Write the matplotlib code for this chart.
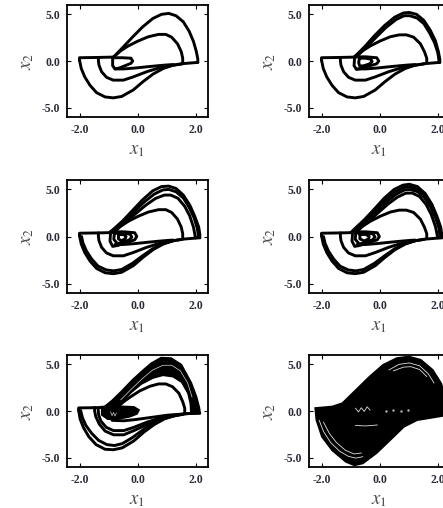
import matplotlib
matplotlib.use("Agg")
import matplotlib.pyplot as plt

plt.rcParams['mathtext.fontset'] = 'stix'

# ---------------- data ----------------
x_ticks = [-2.0, 0.0, 2.0]
y_ticks = [-5.0, 0.0, 5.0]
x_ticklabels = ["-2.0", "0.0", "2.0"]
y_ticklabels = ["-5.0", "0.0", "5.0"]
x_limits = (-2.45, 2.4)
y_limits = (-6.0, 6.0)

# shared parts of the attractor (panels 1-4)
left_drift = ([-2.02, -2.02, -1.4, -0.85], [0.05, 0.35, 0.38, 0.42])
outer_lower = ([-2.02, -1.96, -1.84, -1.66, -1.43, -1.14, -0.86, -0.57, -0.17, 0.17, 0.51, 0.86, 1.2, 1.54, 2.05],
               [0.1, -0.8, -1.7, -2.6, -3.4, -3.85, -3.95, -3.8, -3.1, -2.2, -1.4, -0.8, -0.45, -0.28, -0.15])
middle_lower = ([-1.37, -1.37, -1.35, -1.26, -1.09, -0.86, -0.51, -0.17, 0.29, 0.74, 1.2, 1.52],
                [0.38, 0.0, -0.45, -1.15, -1.75, -2.05, -2.05, -1.7, -1.15, -0.72, -0.45, -0.3])
inner_lower = ([-0.8, -0.5, -0.1, 0.3, 0.7, 1.0, 1.2],
               [-0.85, -0.85, -0.75, -0.62, -0.5, -0.42, -0.38])
inner_arch = ([-0.85, -0.6, -0.35, 0.0, 0.35, 0.7, 0.95, 1.15, 1.35, 1.48, 1.53, 1.53],
              [0.42, 1.1, 1.6, 2.15, 2.6, 2.85, 2.85, 2.55, 1.85, 1.0, 0.3, -0.2])

# panel 1
p1_arch = ([-0.85, -0.7, -0.5, -0.2, 0.15, 0.5, 0.8, 1.05, 1.3, 1.55, 1.75, 1.9, 2.0, 2.05, 2.05],
           [0.42, 0.9, 1.55, 2.55, 3.65, 4.55, 5.0, 5.1, 4.85, 4.2, 3.2, 2.1, 1.0, 0.2, -0.15])
p1_loop = ([-0.88, -0.55, -0.25, -0.19, -0.25, -0.45, -0.65, -0.8, -0.88, -0.88],
           [0.35, 0.35, 0.3, 0.0, -0.25, -0.5, -0.75, -0.85, -0.5, 0.35])

# panel 2
p2_arch_a = ([-0.9, -0.72, -0.5, -0.2, 0.15, 0.5, 0.8, 1.0, 1.25, 1.5, 1.72, 1.9, 2.0, 2.05, 2.05],
             [0.42, 0.95, 1.65, 2.7, 3.8, 4.7, 5.15, 5.2, 5.0, 4.35, 3.3, 2.15, 1.0, 0.2, -0.15])
p2_arch_b = ([-0.85, -0.66, -0.44, -0.14, 0.2, 0.55, 0.82, 1.02, 1.27, 1.5, 1.7, 1.87, 1.98, 2.03],
             [0.42, 0.95, 1.6, 2.55, 3.6, 4.45, 4.85, 4.85, 4.6, 4.0, 3.0, 1.95, 0.9, -0.15])
p2_inner_arch = ([-0.85, -0.6, -0.35, 0.0, 0.35, 0.65, 0.9, 1.15, 1.38, 1.52, 1.6, 1.6],
                 [0.42, 1.1, 1.6, 2.15, 2.6, 2.8, 2.8, 2.55, 1.85, 1.0, 0.3, -0.2])
p2_loop_a = ([-0.88, -0.5, -0.12, -0.05, -0.12, -0.4, -0.65, -0.82, -0.9, -0.88],
             [0.45, 0.45, 0.35, 0.0, -0.3, -0.55, -0.8, -0.9, -0.5, 0.45])
p2_loop_b = ([-0.72, -0.5, -0.32, -0.28, -0.36, -0.55, -0.7, -0.74, -0.72],
             [0.3, 0.3, 0.2, -0.05, -0.3, -0.5, -0.55, -0.2, 0.3])

# panel 3
p3_arch_a = ([-0.97, -0.77, -0.52, -0.2, 0.15, 0.5, 0.8, 1.05, 1.3, 1.55, 1.78, 1.95, 2.08, 2.12, 2.12],
             [0.45, 1.0, 1.7, 2.75, 3.9, 4.85, 5.3, 5.35, 5.1, 4.4, 3.3, 2.1, 1.0, 0.2, -0.15])
p3_arch_b = ([-0.92, -0.72, -0.47, -0.15, 0.2, 0.55, 0.85, 1.05, 1.3, 1.55, 1.75, 1.92, 2.03, 2.08],
             [0.45, 1.0, 1.65, 2.6, 3.65, 4.5, 4.95, 5.0, 4.75, 4.1, 3.1, 2.0, 0.9, -0.15])
p3_arch_c = ([-0.87, -0.66, -0.4, -0.08, 0.27, 0.6, 0.9, 1.12, 1.37, 1.6, 1.77, 1.9, 1.97],
             [0.45, 1.0, 1.6, 2.45, 3.35, 4.05, 4.4, 4.4, 4.05, 3.2, 2.2, 1.0, -0.15])
p3_loop_a = ([-0.95, -0.5, -0.12, -0.05, -0.12, -0.4, -0.7, -0.88, -0.97, -0.95],
             [0.5, 0.5, 0.4, 0.0, -0.35, -0.65, -0.95, -1.05, -0.5, 0.5])
p3_loop_b = ([-0.82, -0.5, -0.28, -0.22, -0.3, -0.52, -0.72, -0.84, -0.82],
             [0.35, 0.35, 0.25, -0.05, -0.35, -0.6, -0.75, -0.3, 0.35])
p3_loop_c = ([-0.68, -0.5, -0.42, -0.45, -0.58, -0.68, -0.68],
             [0.2, 0.2, 0.0, -0.25, -0.45, -0.25, 0.2])
p3_outer_lower_b = ([-1.95, -1.9, -1.78, -1.6, -1.38, -1.1, -0.84, -0.57, -0.2, 0.15, 0.5, 0.85, 1.2],
                    [0.0, -0.7, -1.55, -2.4, -3.15, -3.55, -3.65, -3.5, -2.85, -2.05, -1.3, -0.78, -0.45])

# panel 4
p4_arch_a = ([-1.0, -0.8, -0.54, -0.22, 0.13, 0.48, 0.78, 1.0, 1.28, 1.55, 1.78, 1.95, 2.08, 2.12, 2.12],
             [0.45, 1.05, 1.8, 2.85, 4.05, 5.0, 5.45, 5.55, 5.3, 4.55, 3.4, 2.15, 1.0, 0.2, -0.15])
p4_arch_b = ([-0.96, -0.76, -0.5, -0.18, 0.17, 0.52, 0.8, 1.02, 1.28, 1.53, 1.76, 1.93, 2.05, 2.1],
             [0.45, 1.02, 1.72, 2.75, 3.85, 4.75, 5.2, 5.28, 5.02, 4.3, 3.25, 2.05, 0.95, -0.15])
p4_arch_c = ([-0.91, -0.71, -0.46, -0.14, 0.21, 0.55, 0.84, 1.04, 1.29, 1.53, 1.74, 1.9, 2.02, 2.06],
             [0.45, 1.0, 1.65, 2.6, 3.65, 4.5, 4.95, 5.0, 4.75, 4.1, 3.1, 2.0, 0.9, -0.15])
p4_arch_d = ([-0.86, -0.65, -0.4, -0.08, 0.27, 0.6, 0.88, 1.1, 1.35, 1.58, 1.76, 1.9, 1.98],
             [0.45, 1.0, 1.6, 2.5, 3.45, 4.2, 4.6, 4.62, 4.25, 3.4, 2.3, 1.05, -0.15])
p4_loop_a = ([-0.95, -0.5, -0.1, -0.03, -0.1, -0.4, -0.7, -0.88, -0.97, -0.95],
             [0.5, 0.5, 0.4, 0.0, -0.35, -0.65, -0.95, -1.05, -0.5, 0.5])
p4_loop_b = ([-0.84, -0.5, -0.25, -0.18, -0.26, -0.5, -0.72, -0.86, -0.84],
             [0.38, 0.38, 0.28, -0.05, -0.35, -0.62, -0.8, -0.3, 0.38])
p4_loop_c = ([-0.7, -0.5, -0.38, -0.4, -0.55, -0.7, -0.7],
             [0.22, 0.22, 0.02, -0.25, -0.48, -0.25, 0.22])

# panel 5 (dense band outlines + curves)
p5_band = ([-1.2, -0.9, -0.57, -0.2, 0.15, 0.45, 0.79, 1.13, 1.48, 1.82, 2.0, 2.1, 2.12,
            1.82, 1.8, 1.72, 1.5, 1.2, 0.85, 0.5, 0.1, -0.25, -0.5, -0.7],
           [0.35, 1.1, 2.1, 3.3, 4.3, 5.1, 5.7, 5.65, 4.95, 3.0, 1.5, 0.3, -0.25,
            -0.25, 0.8, 1.9, 3.1, 3.7, 3.85, 3.55, 2.9, 2.0, 1.2, 0.55])
p5_band_gap = ([-0.6, -0.25, 0.15, 0.5, 0.85, 1.15, 1.45, 1.7, 1.85],
               [1.2, 2.3, 3.5, 4.4, 4.9, 4.9, 4.3, 3.0, 1.5])
p5_blob = ([-1.25, -0.6, -0.15, 0.02, -0.05, -0.3, -0.7, -1.05, -1.25],
           [0.45, 0.48, 0.42, 0.1, -0.3, -0.6, -0.85, -0.85, -0.4])
p5_blob_specks = ([-0.95, -0.9, -0.85, -0.8, -0.75], [-0.1, -0.5, -0.15, -0.55, -0.2])
p5_inner_arch = ([-0.7, -0.5, -0.25, 0.05, 0.4, 0.7, 0.95, 1.18, 1.4, 1.53, 1.6, 1.6],
                 [0.45, 1.0, 1.55, 2.15, 2.65, 2.9, 2.9, 2.6, 1.9, 1.0, 0.3, -0.2])
p5_outer_lower_a = ([-2.05, -2.0, -1.88, -1.7, -1.45, -1.14, -0.86, -0.55, -0.15, 0.2, 0.55, 0.9, 1.25, 1.6, 2.1],
                    [0.1, -0.85, -1.8, -2.75, -3.6, -4.1, -4.15, -3.95, -3.2, -2.25, -1.45, -0.85, -0.5, -0.3, -0.2])
p5_outer_lower_b = ([-1.98, -1.92, -1.8, -1.6, -1.36, -1.08, -0.82, -0.55, -0.2, 0.15, 0.5, 0.85, 1.2],
                    [0.05, -0.7, -1.55, -2.4, -3.15, -3.6, -3.7, -3.5, -2.85, -2.05, -1.3, -0.8, -0.45])
p5_middle_lower_a = ([-1.5, -1.5, -1.46, -1.34, -1.14, -0.85, -0.5, -0.15, 0.3, 0.75, 1.2, 1.55],
                     [0.38, 0.0, -0.6, -1.4, -2.15, -2.55, -2.55, -2.1, -1.45, -0.9, -0.55, -0.35])
p5_middle_lower_b = ([-1.38, -1.36, -1.28, -1.1, -0.85, -0.5, -0.15, 0.3, 0.75, 1.2],
                     [0.2, -0.45, -1.1, -1.75, -2.1, -2.1, -1.75, -1.2, -0.75, -0.48])
p5_inner_lower = ([-0.9, -0.5, -0.1, 0.3, 0.7, 1.0, 1.3],
                  [-1.0, -1.05, -0.92, -0.75, -0.58, -0.45, -0.38])
p5_drift = ([-2.05, -2.05, -1.6, -1.2], [0.05, 0.33, 0.35, 0.38])
p5_right_flat = ([2.12, 1.7, 1.3], [-0.22, -0.28, -0.38])

# panel 6 (fully chaotic: filled region + light streaks)
p6_region = ([-2.23, -1.65, -1.3, -0.83, -0.36, 0.1, 0.57, 0.98, 1.39, 1.8, 2.09, 2.25, 2.35, 2.35,
              1.98, 1.27, 0.81, 0.34, -0.13, -0.6, -0.89, -1.18, -1.65, -2.0, -2.19, -2.23],
             [0.3, 0.46, 0.82, 2.25, 3.68, 4.93, 5.65, 5.82, 5.47, 4.4, 2.96, 1.5, 0.2, -0.4,
              -0.6, -0.96, -1.68, -3.1, -4.5, -5.6, -5.8, -5.43, -4.2, -2.75, -0.96, 0.3])
p6_streak_low_a = ([-2.1, -1.95, -1.7, -1.4, -1.1, -0.85, -0.6], [-1.0, -2.2, -3.4, -4.3, -4.85, -5.05, -4.9])
p6_streak_low_b = ([-1.95, -1.75, -1.5, -1.2, -0.9, -0.65], [-1.2, -2.4, -3.4, -4.2, -4.6, -4.5])
p6_streak_top_a = ([0.3, 0.65, 1.0, 1.35, 1.65, 1.85], [4.4, 5.0, 5.15, 4.85, 4.0, 3.0])
p6_streak_top_b = ([0.45, 0.8, 1.05, 1.35, 1.6], [4.3, 4.7, 4.75, 4.45, 3.7])
p6_streak_mid = ([-0.85, -0.5, -0.1], [-1.55, -1.6, -1.5])
p6_streak_w = ([-0.85, -0.75, -0.65, -0.55, -0.45, -0.35], [0.3, -0.1, 0.35, -0.05, 0.45, 0.1])
p6_streak_dots = ([0.2, 0.45, 0.7, 0.95], [0.05, 0.15, 0.0, 0.1])

panel_lines = {
    1: [left_drift, outer_lower, middle_lower, inner_lower, inner_arch, p1_arch, p1_loop],
    2: [left_drift, outer_lower, middle_lower, inner_lower, p2_inner_arch, p2_arch_a, p2_arch_b,
        p2_loop_a, p2_loop_b],
    3: [left_drift, outer_lower, p3_outer_lower_b, middle_lower, inner_lower, inner_arch,
        p3_arch_a, p3_arch_b, p3_arch_c, p3_loop_a, p3_loop_b, p3_loop_c],
    4: [left_drift, outer_lower, p3_outer_lower_b, middle_lower, inner_lower, p2_inner_arch,
        p4_arch_a, p4_arch_b, p4_arch_c, p4_arch_d, p4_loop_a, p4_loop_b, p4_loop_c],
    5: [p5_drift, p5_right_flat, p5_outer_lower_a, p5_outer_lower_b, p5_middle_lower_a,
        p5_middle_lower_b, p5_inner_lower, p5_inner_arch],
}

# ---------------- figure ----------------
W, H = 443, 508
fig = plt.figure(figsize=(W / 100, H / 100), dpi=100)

col_left = [67, 309]
col_width = [141, 141]
row_top = [5, 180, 355]
row_height = [112, 113, 112]

tick_font = dict(family='Liberation Serif', size=8.5, weight='bold')
tick_color = '#2c2c3a'
label_color = '#4d4848'

for idx in range(6):
    r, c = divmod(idx, 2)
    left = col_left[c] / W
    bottom = 1 - (row_top[r] + row_height[r]) / H
    ax = fig.add_axes([left, bottom, col_width[c] / W, row_height[r] / H])
    ax.set_xlim(*x_limits)
    ax.set_ylim(*y_limits)
    pnum = idx + 1
    if pnum in panel_lines:
        for xs, ys in panel_lines[pnum]:
            ax.plot(xs, ys, color='black', lw=2.1, solid_capstyle='round', solid_joinstyle='round')
    if pnum == 5:
        ax.fill(*p5_band, color='black', lw=1.5, ec='black')
        ax.fill(*p5_blob, color='black', lw=1.5, ec='black')
        ax.plot(*p5_band_gap, color='#d8d8d8', lw=0.5)
        ax.plot(*p5_blob_specks, color='#c8c8c8', lw=0.5)
    if pnum == 6:
        ax.fill(*p6_region, color='black', lw=1.5, ec='black')
        for s in [p6_streak_low_a, p6_streak_low_b, p6_streak_top_a, p6_streak_top_b,
                  p6_streak_mid, p6_streak_w]:
            ax.plot(*s, color='#e0e0e0', lw=0.6)
        ax.plot(*p6_streak_dots, color='#b0b0b0', lw=0, marker='.', ms=1.5)
    ax.set_xticks(x_ticks)
    ax.set_xticklabels(x_ticklabels, fontdict=tick_font, color=tick_color)
    ax.set_yticks(y_ticks)
    ax.set_yticklabels(y_ticklabels, fontdict=tick_font, color=tick_color)
    ax.tick_params(direction='in', length=3, width=0.8, top=True, right=True, pad=5)
    for sp in ax.spines.values():
        sp.set_linewidth(1.3)
    ax.set_xlabel(r'$x_{\mathit{1}}$', fontsize=13.5, color=label_color, labelpad=3)
    ax.set_ylabel(r'$x_{\mathit{2}}$', fontsize=13.5, color=label_color, labelpad=4)

fig.savefig('out.png', dpi=100)
